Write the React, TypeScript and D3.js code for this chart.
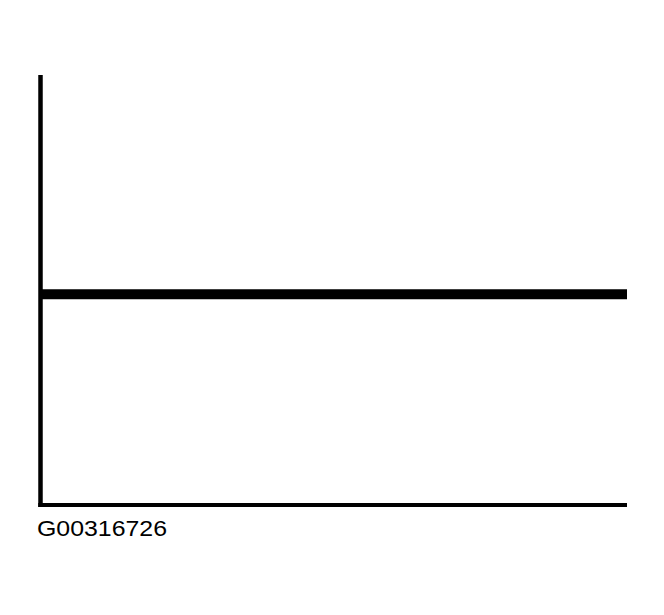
import React, { useEffect, useRef } from "react";
import * as d3 from "d3";

// chart values
const xDomain: number[] = [0, 100];
const yDomain: number[] = [0, 100];
const levelSeries: number[] = [49, 49];
const figureLabel = "G00316726";

const width = 664;
const height = 615;

export default function App() {
    const ref = useRef<SVGSVGElement | null>(null);

    useEffect(() => {
        const svg = d3.select(ref.current);
        svg.selectAll("*").remove();

        const margin = { top: 75, right: 37, bottom: 110, left: 40.5 };

        const x = d3.scaleLinear()
            .domain(xDomain)
            .range([margin.left, width - margin.right]);
        const y = d3.scaleLinear()
            .domain(yDomain)
            .range([height - margin.bottom, margin.top]);

        // thick level line
        const line = d3.line<number>()
            .x((d, i) => x(xDomain[0] + (i * (xDomain[1] - xDomain[0])) / (levelSeries.length - 1)))
            .y(d => y(d));

        svg.append("path")
            .datum(levelSeries)
            .attr("d", line)
            .style("fill", "none")
            .style("stroke", "#000")
            .style("stroke-width", 10);

        // y axis
        svg.append("line")
            .attr("x1", x(xDomain[0]))
            .attr("x2", x(xDomain[0]))
            .attr("y1", y(yDomain[1]))
            .attr("y2", y(yDomain[0]) + 2)
            .style("stroke", "#000")
            .style("stroke-width", 4.5);

        // x axis
        svg.append("line")
            .attr("x1", x(xDomain[0]) - 2.25)
            .attr("x2", x(xDomain[1]))
            .attr("y1", y(yDomain[0]))
            .attr("y2", y(yDomain[0]))
            .style("stroke", "#000")
            .style("stroke-width", 4);

        // figure id
        svg.append("text")
            .attr("x", 37)
            .attr("y", 536)
            .attr("textLength", 130)
            .attr("lengthAdjust", "spacingAndGlyphs")
            .text(figureLabel)
            .style("fill", "#000")
            .style("font-size", "22px")
            .style("font-family", "Liberation Sans, Arial, sans-serif");
    }, []);

    return (
        <svg
            ref={ref}
            width={width}
            height={height}
            style={{ position: "absolute", left: 0, top: 0, background: "#fff" }}
        ></svg>
    );
}
